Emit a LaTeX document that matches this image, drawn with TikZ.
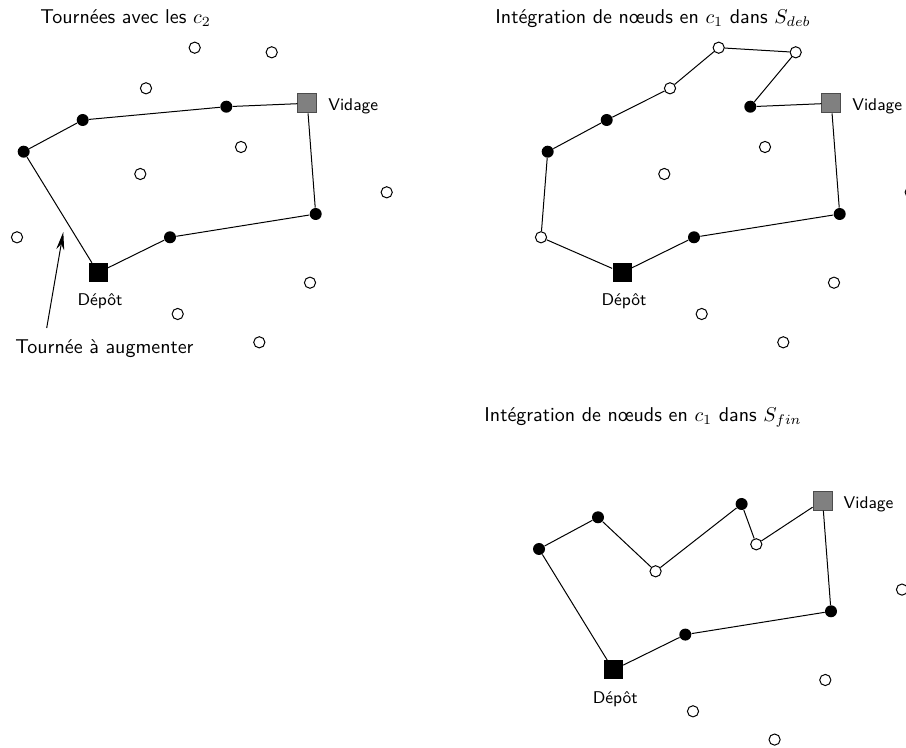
\documentclass[tikz,border=0pt]{standalone}
\usetikzlibrary{arrows.meta}
\begin{document}
\begin{tikzpicture}[x=0.5pt,y=-0.5pt,
  every node/.style={font=\sffamily},
  open/.style={circle,draw=black,fill=white,line width=0.5pt,minimum size=5.6pt,inner sep=0pt},
  full/.style={circle,fill=black,minimum size=6pt,inner sep=0pt},
  depot/.style={rectangle,fill=black,minimum size=9.5pt,inner sep=0pt},
  vidage/.style={rectangle,draw=black!70,fill=black!50,line width=0.5pt,minimum size=9.5pt,inner sep=0pt},
  route/.style={draw=black,line width=0.5pt},
  title/.style={anchor=base west,font=\sffamily\fontsize{10}{12}\selectfont,inner sep=0pt},
  lab/.style={font=\sffamily\fontsize{8.5}{10}\selectfont,inner sep=0pt}]
\useasboundingbox (0,0) rectangle (906,748);

% ---------- Panel 1 ----------
\node[title] (t1) at (40,24) {Tourn\'ees avec les $c_2$};
\foreach \n/\x/\y in {o1/194.7/47.7,o2/271.7/52.3,o3/146/88.3,o4/241/147,o5/140.3/174,o6/386.7/192.3,o7/17/237.3,o8/310/282.7,o9/177.7/314,o10/259.3/342.3}
  \node[open] (a\n) at (\x,\y) {};
\node[full] (aA) at (23.7,151.7) {};
\node[full] (aB) at (82.7,120) {};
\node[full] (aC) at (226.3,106.7) {};
\node[full] (aD) at (315.7,214) {};
\node[full] (aE) at (170,237.3) {};
\node[depot] (aP) at (98,272.7) {};
\node[vidage] (aV) at (307.3,103.3) {};
\draw[route] (aP) -- (aA) -- (aB) -- (aC) -- (aV) -- (aD) -- (aE) -- (aP);
\node[lab,anchor=base west] (aVl) at (328,111) {Vidage};
\node[lab,anchor=base] (aPl) at (100,306) {D\'ep\^ot};
\node[anchor=base west,font=\sffamily\fontsize{10}{12}\selectfont,inner sep=0pt] (tl) at (15,354) {Tourn\'ee \`a augmenter};
\coordinate (arS) at (46.7,328);
\coordinate (arE) at (63.3,232);
\draw[line width=0.5pt,-{Stealth[length=9pt,width=4pt]}] (arS) -- (arE);

% ---------- Panel 2 ----------
\begin{scope}[shift={(524,0)}]
\node[title] (t2) at (-29,24) {Int\'egration de n\oe uds en $c_1$ dans $S_{deb}$};
\foreach \n/\x/\y in {o1/194.7/47.7,o2/271.7/52.3,o3/146/88.3,o4/241/147,o5/140.3/174,o6/386.7/192.3,o7/17/237.3,o8/310/282.7,o9/177.7/314,o10/259.3/342.3}
  \node[open] (b\n) at (\x,\y) {};
\node[full] (bA) at (23.7,151.7) {};
\node[full] (bB) at (82.7,120) {};
\node[full] (bC) at (226.3,106.7) {};
\node[full] (bD) at (315.7,214) {};
\node[full] (bE) at (170,237.3) {};
\node[depot] (bP) at (98,272.7) {};
\node[vidage] (bV) at (307.3,103.3) {};
\draw[route] (bP) -- (bo7) -- (bA) -- (bB) -- (bo3) -- (bo1) -- (bo2) -- (bC) -- (bV) -- (bD) -- (bE) -- (bP);
\node[lab,anchor=base west] (bVl) at (328,111) {Vidage};
\node[lab,anchor=base] (bPl) at (100,306) {D\'ep\^ot};
\end{scope}

% ---------- Panel 3 ----------
\begin{scope}[shift={(515.3,397.3)}]
\node[title] (t3) at (-31.3,24.4) {Int\'egration de n\oe uds en $c_1$ dans $S_{fin}$};
\foreach \n/\x/\y in {o4/241/147,o5/140.3/174,o6/386.7/192.3,o8/310/282.7,o9/177.7/314,o10/259.3/342.3}
  \node[open] (c\n) at (\x,\y) {};
\node[full] (cA) at (23.7,151.7) {};
\node[full] (cB) at (82.7,120) {};
\node[full] (cC) at (226.3,106.7) {};
\node[full] (cD) at (315.7,214) {};
\node[full] (cE) at (170,237.3) {};
\node[depot] (cP) at (98,272.7) {};
\node[vidage] (cV) at (307.3,103.3) {};
\draw[route] (cP) -- (cA) -- (cB) -- (co5) -- (cC) -- (co4) -- (cV) -- (cD) -- (cE) -- (cP);
\node[lab,anchor=base west] (cVl) at (328,111) {Vidage};
\node[lab,anchor=base] (cPl) at (100,306) {D\'ep\^ot};
\end{scope}
\end{tikzpicture}
\end{document}
